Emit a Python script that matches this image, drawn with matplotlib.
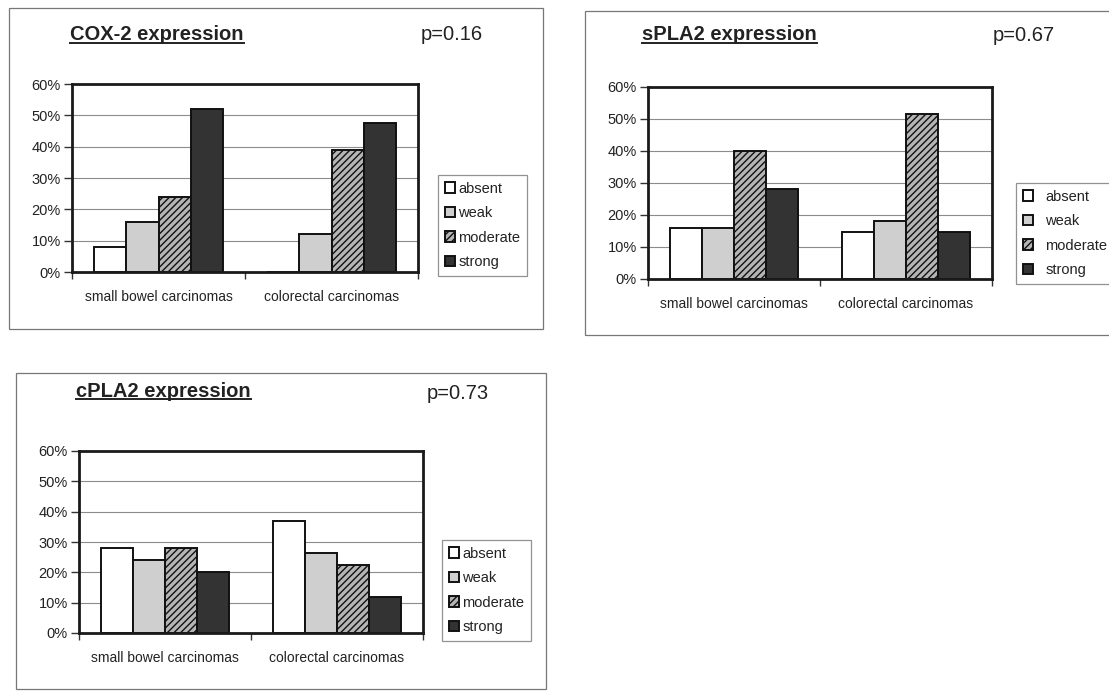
import numpy as np
import matplotlib
matplotlib.use("Agg")
import matplotlib.pyplot as plt
from matplotlib.patches import Rectangle
from matplotlib.lines import Line2D

# ---------------- data ----------------
categories = ["small bowel carcinomas", "colorectal carcinomas"]
levels = ["absent", "weak", "moderate", "strong"]

cox2_small = [8, 16, 24, 52]
cox2_colorectal = [0, 12, 39, 47.5]
spla2_small = [16, 16, 40, 28]
spla2_colorectal = [14.7, 18, 51.5, 14.7]
cpla2_small = [28, 24, 28, 20]
cpla2_colorectal = [37, 26.5, 22.5, 12]

titles = ["COX-2 expression", "sPLA2 expression", "cPLA2 expression"]
p_values = ["p=0.16", "p=0.67", "p=0.73"]
yticks = [0, 10, 20, 30, 40, 50, 60]

# ---------------- styles ----------------
W, H = 1109, 692
plt.rcParams['font.family'] = ['Liberation Sans', 'DejaVu Sans']
plt.rcParams['hatch.linewidth'] = 1.0
TXT = '#222222'

fig = plt.figure(figsize=(W / 100, H / 100), dpi=100)


def fx(px):
    return px / W


def fy(py):
    return 1 - py / H


bar_styles = [
    dict(facecolor='white', hatch=None),
    dict(facecolor='#cfcfcf', hatch=None),
    dict(facecolor='#b5b5b5', hatch='/////'),
    dict(facecolor='#333333', hatch=None),
]

layouts = [
    dict(ax=(72, 84, 418, 272), box=(9, 8, 543, 329), title=(70, 40), p=(421, 40),
         leg=(438, 175), htp=0.25),
    dict(ax=(648, 87, 992, 279), box=(585, 11, 1118, 335), title=(642, 40), p=(993, 41),
         leg=(1016, 183), htp=0.85),
    dict(ax=(79, 451, 423, 633), box=(16, 373, 546, 689), title=(76, 397), p=(427, 399),
         leg=(442, 540), htp=0.25),
]

series = [(cox2_small, cox2_colorectal),
          (spla2_small, spla2_colorectal),
          (cpla2_small, cpla2_colorectal)]

title_texts = []
for k, lay in enumerate(layouts):
    # outer chart box
    bl, bt, br, bb = lay['box']
    fig.patches.append(Rectangle((fx(bl), fy(bb)), fx(br) - fx(bl), fy(bt) - fy(bb),
                                 transform=fig.transFigure, fill=False,
                                 edgecolor='#777777', lw=0.9, zorder=0))
    l, t, r, b = lay['ax']
    ax = fig.add_axes([fx(l), fy(b), fx(r) - fx(l), fy(t) - fy(b)])
    small, colo = series[k]
    x = np.arange(len(categories)) + 0.5
    bw = 0.187
    for i, lev in enumerate(levels):
        vals = [small[i], colo[i]]
        st = bar_styles[i]
        ax.bar(x + (i - 1.5) * bw, vals, width=bw, facecolor=st['facecolor'],
               hatch=st['hatch'], edgecolor='#111111', linewidth=1.4,
               label=lev, zorder=3)
    ax.set_xlim(0, 2)
    ax.set_ylim(0, 60)
    ax.set_yticks(yticks)
    ax.set_yticklabels([f"{v}%" for v in yticks])
    ax.set_xticks(x)
    ax.set_xticklabels(categories)
    ax.set_xticks([0, 1, 2], minor=True)
    ax.tick_params(axis='x', which='major', length=0, pad=13, labelsize=10, labelcolor=TXT)
    ax.tick_params(axis='x', which='minor', length=5, width=1, color='#333333')
    ax.tick_params(axis='y', length=6, width=1, pad=2, labelsize=10.5, labelcolor=TXT,
                   color='#333333')
    ax.yaxis.grid(True, color='#8c8c8c', lw=0.8)
    ax.set_axisbelow(True)
    for sp in ax.spines.values():
        sp.set_linewidth(2)
        sp.set_color('#1a1a1a')
        sp.set_zorder(4)

    lx, ly = lay['leg']
    leg = ax.legend(loc='upper left', bbox_to_anchor=(fx(lx), fy(ly)),
                    bbox_transform=fig.transFigure, borderaxespad=0,
                    fontsize=10.5, frameon=True, fancybox=False, edgecolor='#777777',
                    handlelength=0.7, handleheight=0.7, handletextpad=lay['htp'],
                    labelspacing=0.72, borderpad=0.45)
    leg.get_frame().set_linewidth(0.9)
    for txt in leg.get_texts():
        txt.set_color(TXT)

    tx, ty = lay['title']
    tt = fig.text(fx(tx), fy(ty), titles[k], fontsize=14.5, fontweight='bold',
                  color=TXT, ha='left', va='baseline')
    title_texts.append((tt, ty))
    px_, py_ = lay['p']
    fig.text(fx(px_), fy(py_), p_values[k], fontsize=14.5, color=TXT,
             ha='left', va='baseline')

# underline titles
fig.canvas.draw()
renderer = fig.canvas.get_renderer()
for tt, ty in title_texts:
    bbx = tt.get_window_extent(renderer)
    yline = fy(ty + 2.5)
    fig.lines.append(Line2D([bbx.x0 / W, bbx.x1 / W], [yline, yline],
                            transform=fig.transFigure, color=TXT, lw=1.4))

fig.savefig("out.png", dpi=100)
